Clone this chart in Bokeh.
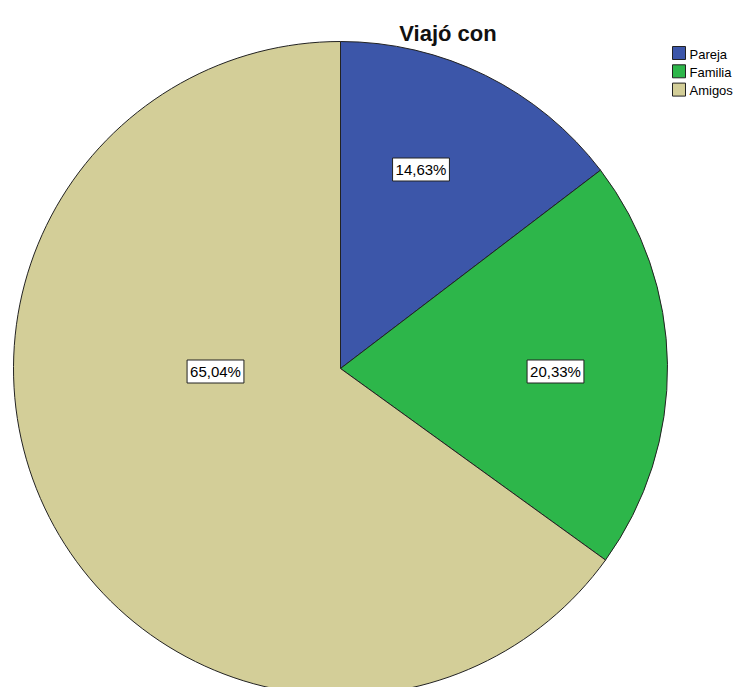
import math
from bokeh.plotting import figure
from bokeh.models import Range1d, ColumnDataSource
from bokeh.core.properties import value
from bokeh.embed import file_html
from bokeh.resources import INLINE

# ---- data ----
title_text = "Viajó con"
categories = ["Pareja", "Familia", "Amigos"]
percents = [14.63, 20.33, 65.04]
colors = ["#3C56A9", "#2DB64A", "#D3CE98"]

# ---- layout (screenshot pixel coordinates) ----
W, H = 735, 687
CX, CY, R = 340, 368, 327
label_pos = [(420.5, 169), (555, 371), (215, 371)]
legend_x, legend_y0, legend_dy, sw = 672, 46, 18.3, 13

def sy(y):
    return -y

p = figure(width=W, height=H, output_backend="svg", toolbar_location=None,
           x_range=Range1d(0, W), y_range=Range1d(-H, 0),
           min_border=0)
p.axis.visible = False
p.grid.visible = False
p.outline_line_color = None
p.background_fill_color = "white"
p.border_fill_color = "white"

total = sum(percents)
starts, ends = [], []
cum = 0.0
for v in percents:
    starts.append(math.pi / 2 - 2 * math.pi * cum / total)
    cum += v
    ends.append(math.pi / 2 - 2 * math.pi * cum / total)

src = ColumnDataSource(dict(cat=categories, pct=percents, color=colors,
                            start=starts, end=ends))
p.wedge(x=CX, y=sy(CY), radius=R, start_angle="start", end_angle="end",
        direction="clock", fill_color="color", line_color="#222222",
        line_width=1, source=src)

# percentage labels
lab = ColumnDataSource(dict(
    x=[lp[0] for lp in label_pos],
    y=[sy(lp[1]) for lp in label_pos],
    t=[f"{v:.2f}%".replace(".", ",") for v in percents]))
p.text(x="x", y="y", text="t", source=lab, text_align="center",
       text_baseline="middle", text_font=value("Liberation Sans"),
       text_font_size="15px", text_color="black",
       background_fill_color="white", border_line_color="#222222",
       border_line_width=1, padding=3)

# title
p.text(x=[447.5], y=[sy(33)], text=[title_text], text_align="center",
       text_baseline="alphabetic", text_font=value("Liberation Sans"),
       text_font_size="22px", text_font_style="bold", text_color="#111111")

# legend (manual)
ly = [legend_y0 + sw / 2 + i * legend_dy for i in range(len(categories))]
p.rect(x=[legend_x + sw / 2] * len(categories), y=[sy(v) for v in ly],
       width=sw, height=sw, fill_color=colors, line_color="#222222",
       line_width=1)
p.text(x=[legend_x + sw + 4] * len(categories), y=[sy(v + 1) for v in ly],
       text=categories, text_align="left", text_baseline="middle",
       text_font=value("Liberation Sans"), text_font_size="13px",
       text_color="black")

open("out.html", "w").write(file_html(p, INLINE))
